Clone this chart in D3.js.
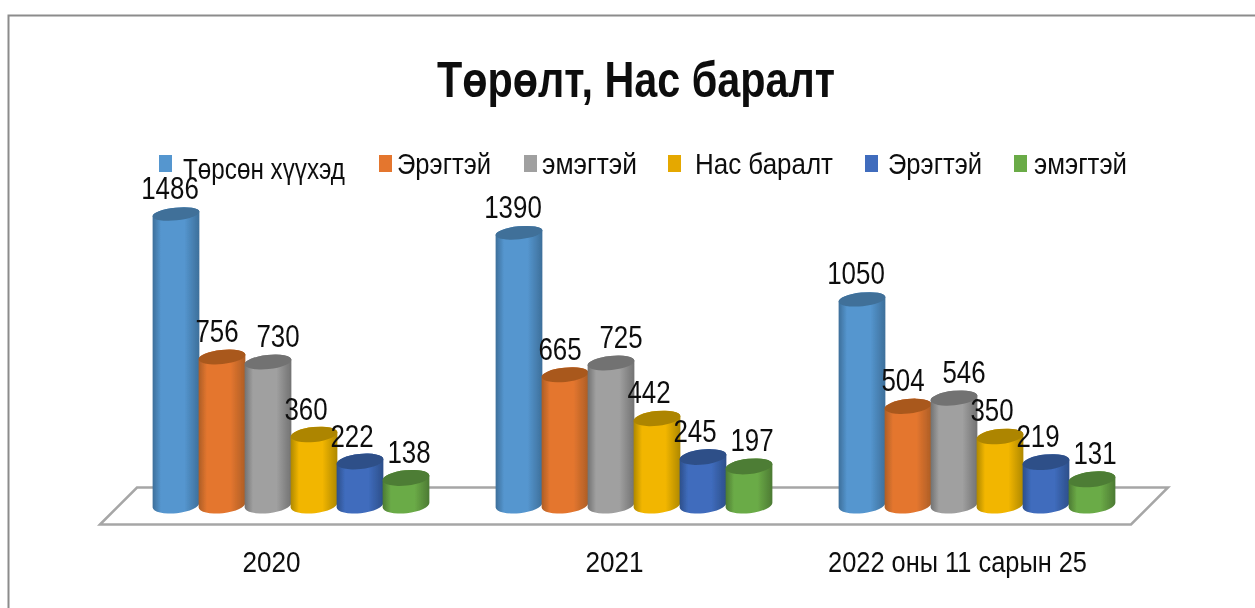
<!DOCTYPE html>
<html>
<head>
<meta charset="utf-8">
<script src="https://cdn.jsdelivr.net/npm/d3@7"></script>
<style>
  html, body { margin: 0; background: #fff; }
  svg { display: block; }
  text { font-family: "Liberation Sans", sans-serif; fill: #111; }
</style>
</head>
<body>
<div id="chart"></div>
<script>
const categories = ["2020", "2021", "2022 оны 11 сарын 25"];
const seriesNames = ["Төрсөн хүүхэд", "Эрэгтэй", "эмэгтэй", "Нас баралт", "Эрэгтэй", "эмэгтэй"];
const born = [1486, 1390, 1050];
const bornMale = [756, 665, 504];
const bornFemale = [730, 725, 546];
const deaths = [360, 442, 350];
const deathsMale = [222, 245, 219];
const deathsFemale = [138, 197, 131];
const seriesValues = [born, bornMale, bornFemale, deaths, deathsMale, deathsFemale];

// body mid, body edge, cap
const colors = [
	["#5596cf", "#3d6f9a", "#3f7099"],
	["#e4762f", "#ad5e26", "#a9591f"],
	["#a0a0a0", "#727272", "#727272"],
	["#f2b600", "#ae8800", "#ad8500"],
	["#3f6cbd", "#2d4f8a", "#2f5088"],
	["#6bab47", "#4c7a33", "#4e7d34"]
];

const width = 1255, height = 608;
const baseY = 505;
const rx = 23.5, bottomRy = 8.2, tilt = -6;
const labelDx = [-6, -5, 10, -8, -8, 3];
const labelDy = 26;
const digitWidth = 14.4;
const legendX = [159, 379, 524, 668, 865, 1014];
const legendTextX = [183, 397, 542, 695, 888, 1034];
const legendTextW = [162, 94, 95, 138, 94, 93];
const categoryW = [58, 58, 259];

const svg = d3.select("#chart").append("svg")
	.attr("width", width)
	.attr("height", height);

const defs = svg.append("defs");
colors.forEach((c, i) => {
	const grad = defs.append("linearGradient").attr("id", "cyl-" + i);
	[[0, c[1]], [0.18, c[0]], [0.68, c[0]], [1, c[1]]].forEach(s => {
		grad.append("stop").attr("offset", s[0]).attr("stop-color", s[1]);
	});
});
defs.append("filter").attr("id", "soft")
	.attr("filterUnits", "userSpaceOnUse")
	.attr("x", 0).attr("y", 0).attr("width", width).attr("height", height)
	.append("feGaussianBlur").attr("stdDeviation", 0.6);

const root = svg.append("g").attr("filter", "url(#soft)");

// frame, open on the right and at the bottom
root.append("path")
	.attr("d", "M8.5,608V15.5H1255")
	.attr("fill", "none")
	.attr("stroke", "#8c8c8c")
	.attr("stroke-width", 2);

root.append("text")
	.attr("x", 636).attr("y", 97)
	.attr("text-anchor", "middle")
	.attr("font-size", 50)
	.attr("font-weight", "bold")
	.attr("textLength", 398)
	.attr("lengthAdjust", "spacingAndGlyphs")
	.text("Төрөлт, Нас баралт");

const x0 = d3.scaleBand()
	.domain(categories)
	.range([153, 1115])
	.paddingInner(67 / 343);

const x1 = d3.scaleBand()
	.domain(d3.range(seriesNames.length))
	.range([0, x0.bandwidth()]);

const y = d3.scaleLinear()
	.domain([0, 1486])
	.range([baseY, 214]);

// caps look flatter the higher they are
const capRy = d3.scaleLinear()
	.domain([0, 1486])
	.range([7.8, 6.4]);

// floor
root.append("path")
	.attr("d", "M100,524.5L137,487.5H1168L1131,524.5Z")
	.attr("fill", "#fff")
	.attr("stroke", "#a6a6a6")
	.attr("stroke-width", 2.5);

const legend = root.append("g").selectAll("g")
	.data(seriesNames).enter()
	.append("g");

legend.append("rect")
	.attr("x", (d, i) => legendX[i])
	.attr("y", 155)
	.attr("width", 13)
	.attr("height", 17)
	.attr("fill", (d, i) => i == 3 ? "#e5a800" : colors[i][0]);

legend.append("text")
	.attr("x", (d, i) => legendTextX[i])
	.attr("y", (d, i) => i == 0 ? 179 : 174)
	.attr("font-size", 29)
	.attr("textLength", (d, i) => legendTextW[i])
	.attr("lengthAdjust", "spacingAndGlyphs")
	.text(d => d);

const rows = categories.map((c, ci) => seriesValues.map((vals, si) => ({ cat: c, series: si, value: vals[ci] })));

const cyl = root.append("g").selectAll("g")
	.data(rows.flat()).enter()
	.append("g")
	.attr("transform", d => `translate(${x0(d.cat) + x1(d.series) + x1.bandwidth() / 2},0)`);

const dy = rx * Math.sin(-tilt * Math.PI / 180);
const dx = rx * Math.cos(tilt * Math.PI / 180);

cyl.append("path")
	.attr("fill", d => `url(#cyl-${d.series})`)
	.attr("d", d => {
		const t = y(d.value);
		return `M${-dx},${t + dy}L${-dx},${baseY + dy}` +
			`A${rx},${bottomRy} ${tilt} 0 0 ${dx},${baseY - dy}` +
			`L${dx},${t - dy}A${rx},${capRy(d.value)} ${tilt} 0 0 ${-dx},${t + dy}Z`;
	});

cyl.append("ellipse")
	.attr("rx", rx)
	.attr("ry", d => capRy(d.value))
	.attr("fill", d => colors[d.series][2])
	.attr("transform", d => `translate(0,${y(d.value)}) rotate(${tilt})`);

root.append("g").selectAll("text")
	.data(rows.flat()).enter()
	.append("text")
	.attr("x", d => x0(d.cat) + x1(d.series) + x1.bandwidth() / 2 + labelDx[d.series])
	.attr("y", d => y(d.value) - labelDy + 11)
	.attr("text-anchor", "middle")
	.attr("font-size", 31)
	.attr("textLength", d => String(d.value).length * digitWidth)
	.attr("lengthAdjust", "spacingAndGlyphs")
	.text(d => d.value);

// category labels sit left of the bars because of the 3d floor
const axis = root.append("g")
	.attr("transform", "translate(-19.5,548)")
	.call(d3.axisBottom(x0).tickSize(0));
axis.select(".domain").remove();
axis.attr("font-family", null).attr("font-size", null);
axis.selectAll("text")
	.attr("font-size", 29)
	.attr("textLength", (d, i) => categoryW[i])
	.attr("lengthAdjust", "spacingAndGlyphs");
</script>
</body>
</html>
